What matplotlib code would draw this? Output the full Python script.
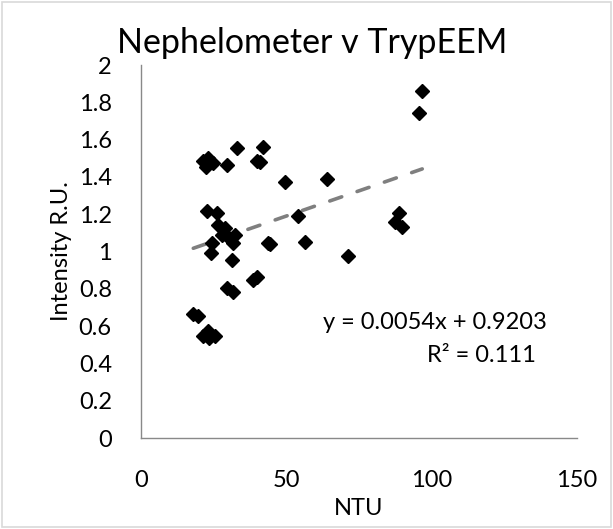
import matplotlib
matplotlib.use('Agg')
import matplotlib.pyplot as plt
from matplotlib.patches import Rectangle

plt.rcParams['font.family'] = ['Lato', 'DejaVu Sans']

# NTU vs intensity
ntu = [96.8, 95.6, 42.1, 41.0, 49.5, 63.9, 53.9, 44.4, 56.4, 71.1,
       88.9, 87.4, 89.7, 21.2, 23.2, 24.9, 22.4, 29.5, 32.9, 39.8,
       22.6, 26.0, 26.6, 28.9, 27.8, 30.0, 32.3, 31.8, 24.3, 24.0,
       31.2, 43.8, 40.0, 38.5, 29.5, 31.5, 18.0, 19.5, 21.5, 23.0,
       25.5, 23.5]
intensity = [1.862, 1.741, 1.559, 1.480, 1.371, 1.387, 1.192, 1.040, 1.053, 0.976,
             1.205, 1.157, 1.133, 1.485, 1.500, 1.473, 1.455, 1.464, 1.557, 1.485,
             1.219, 1.205, 1.142, 1.124, 1.088, 1.079, 1.088, 1.044, 1.044, 0.994,
             0.954, 1.044, 0.862, 0.845, 0.805, 0.785, 0.665, 0.655, 0.545, 0.575,
             0.545, 0.535]

slope = 0.0054
intercept = 0.9203
r2 = 0.111

x_ticks = [0, 50, 100, 150]
y_ticks = [0, 0.2, 0.4, 0.6, 0.8, 1, 1.2, 1.4, 1.6, 1.8, 2]
y_tick_labels = ['0', '0.2', '0.4', '0.6', '0.8', '1', '1.2', '1.4', '1.6', '1.8', '2']

fig = plt.figure(figsize=(6.13, 5.29), dpi=100)
ax = fig.add_axes([0.230, 0.172, 0.711, 0.705])

# trend line over the data range
x0, x1 = min(ntu), max(ntu)
ax.plot([x0, x1], [slope * x0 + intercept, slope * x1 + intercept],
        color='#7f7f7f', lw=2.6, ls=(0, (3.5, 4.5)), dash_capstyle='round', zorder=2)

ax.plot(ntu, intensity, 'D', color='black', ms=7.4, mec='black', zorder=3)

ax.set_xlim(0, 150)
ax.set_ylim(0, 2)
ax.set_xticks(x_ticks)
ax.set_yticks(y_ticks)
ax.set_yticklabels(y_tick_labels)
ax.tick_params(length=0, labelsize=17, colors='black')
ax.tick_params(axis='x', pad=23)
ax.tick_params(axis='y', pad=21)

for s in ['top', 'right']:
    ax.spines[s].set_visible(False)
for s in ['left', 'bottom']:
    ax.spines[s].set_color('#898989')
    ax.spines[s].set_linewidth(1.0)

ax.set_title('Nephelometer v TrypEEM', fontsize=24.5, pad=9, x=0.392)
ax.set_xlabel('NTU', fontsize=17, labelpad=5)
ax.set_ylabel('Intensity R.U.', fontsize=17, labelpad=5)

ax.text(101, 0.622, 'y = 0.0054x + 0.9203', fontsize=17, ha='center', va='center')
ax.text(117, 0.44, 'R² = %.3f' % r2, fontsize=17, ha='center', va='center')

fig.patches.append(Rectangle((0.003, 0.003), 0.994, 0.994, transform=fig.transFigure,
                             fill=False, edgecolor='#d9d9d9', lw=1.2))

fig.savefig('out.png', dpi=100)
